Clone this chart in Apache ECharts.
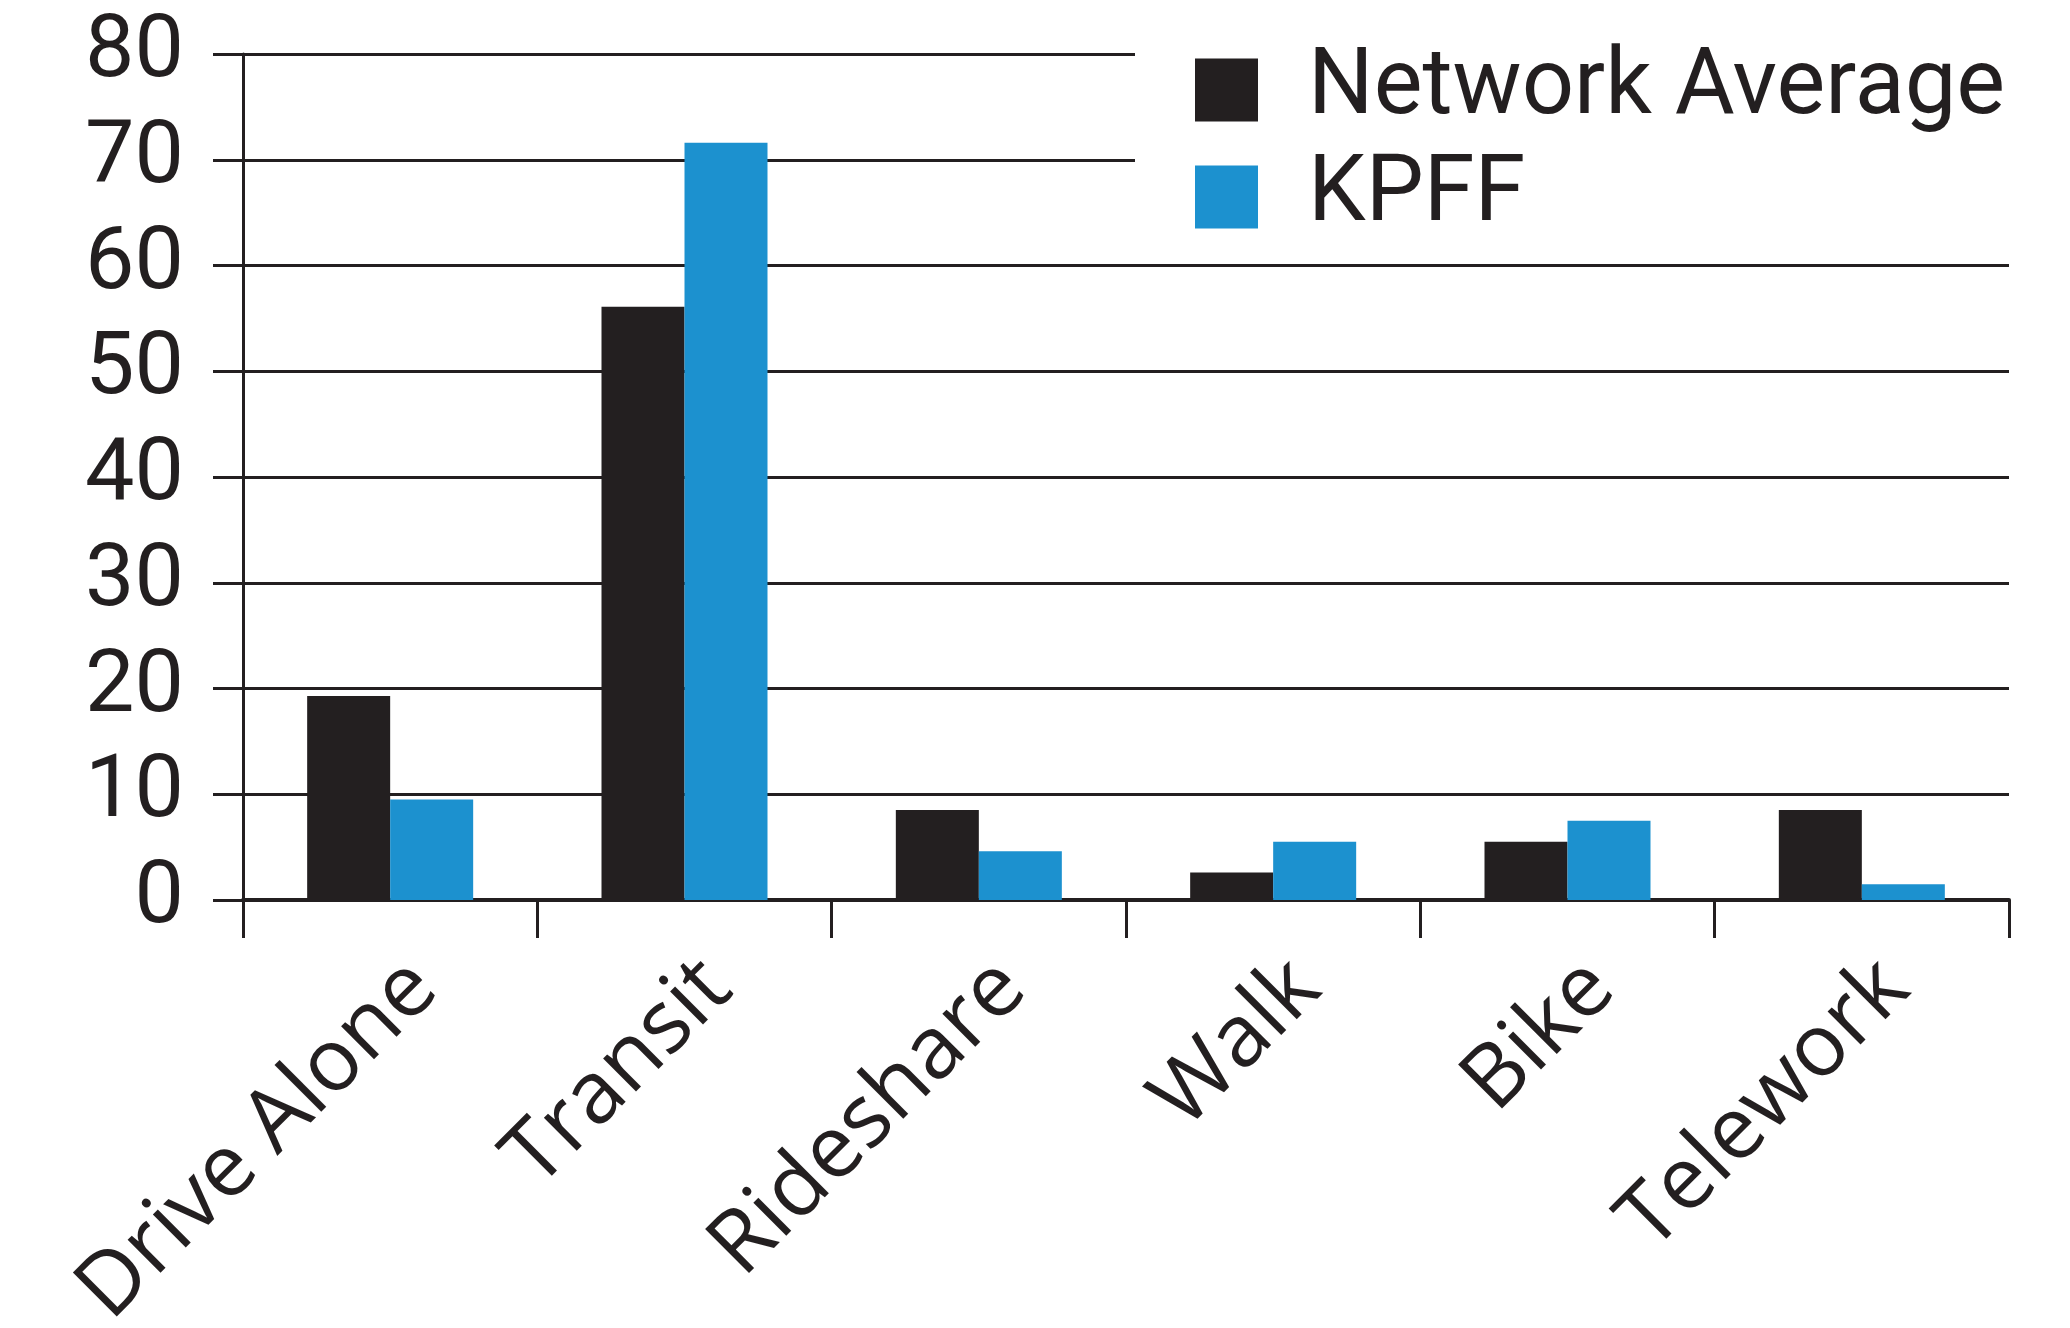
<!DOCTYPE html>
<html>
<head>
<meta charset="utf-8">
<style>
html, body { margin: 0; padding: 0; background: #fff; }
#main { width: 2070px; height: 1328px; }
</style>
<script src="https://cdn.jsdelivr.net/npm/echarts@6/dist/echarts.min.js"></script>
</head>
<body>
<div id="main"></div>
<script>
var dom = document.getElementById("main");
var myChart = echarts.init(dom);

// data
var modes = ['Drive Alone', 'Transit', 'Rideshare', 'Walk', 'Bike', 'Telework'];
var networkAverage = [19.3, 56.1, 8.5, 2.6, 5.5, 8.5];
var kpff = [9.5, 71.6, 4.6, 5.5, 7.5, 1.5];
var seriesNames = ['Network Average', 'KPFF'];

var ink = '#231f20';
var blue = '#1c91cf';

var option = {
    backgroundColor: '#fff',
    animation: false,
    grid: {
        left: 243,
        right: 61,
        top: 54,
        bottom: 428,
        containLabel: false,
        outerBoundsMode: 'none'
    },
    legend: {
        data: seriesNames,
        orient: 'vertical',
        left: 1135,
        top: 0,
        padding: [44, 100, 0, 60],
        backgroundColor: '#fff',
        itemWidth: 63,
        itemHeight: 63,
        itemGap: 15,
        icon: 'rect',
        z: 10,
        textStyle: {
            fontFamily: 'Roboto',
            fontSize: 92,
            color: ink,
            padding: [0, 0, 0, 45]
        }
    },
    xAxis: {
        type: 'category',
        data: modes,
        axisLine: {lineStyle: {color: ink, width: 4}},
        axisTick: {show: true, alignWithLabel: false, length: 38, lineStyle: {color: ink, width: 3}},
        axisLabel: {
            rotate: 45,
            interval: 0,
            margin: 108,
            align: 'right',
            padding: [0, -47, 0, 0],
            fontFamily: 'Open Sans',
            fontSize: 87,
            color: ink
        }
    },
    yAxis: {
        type: 'value',
        min: 0,
        max: 80,
        interval: 10,
        axisLine: {show: true, lineStyle: {color: ink, width: 3}},
        axisTick: {show: true, length: 30, lineStyle: {color: ink, width: 3}},
        splitLine: {lineStyle: {color: ink, width: 3}},
        axisLabel: {
            margin: 59,
            fontFamily: 'Roboto',
            fontSize: 88,
            color: ink
        }
    },
    series: [{
        name: seriesNames[0],
        type: 'bar',
        barGap: '0%',
        barCategoryGap: '43.6%',
        itemStyle: {color: ink},
        data: networkAverage
    }, {
        name: seriesNames[1],
        type: 'bar',
        itemStyle: {color: blue},
        data: kpff
    }]
};

myChart.setOption(option, true);
</script>
</body>
</html>
